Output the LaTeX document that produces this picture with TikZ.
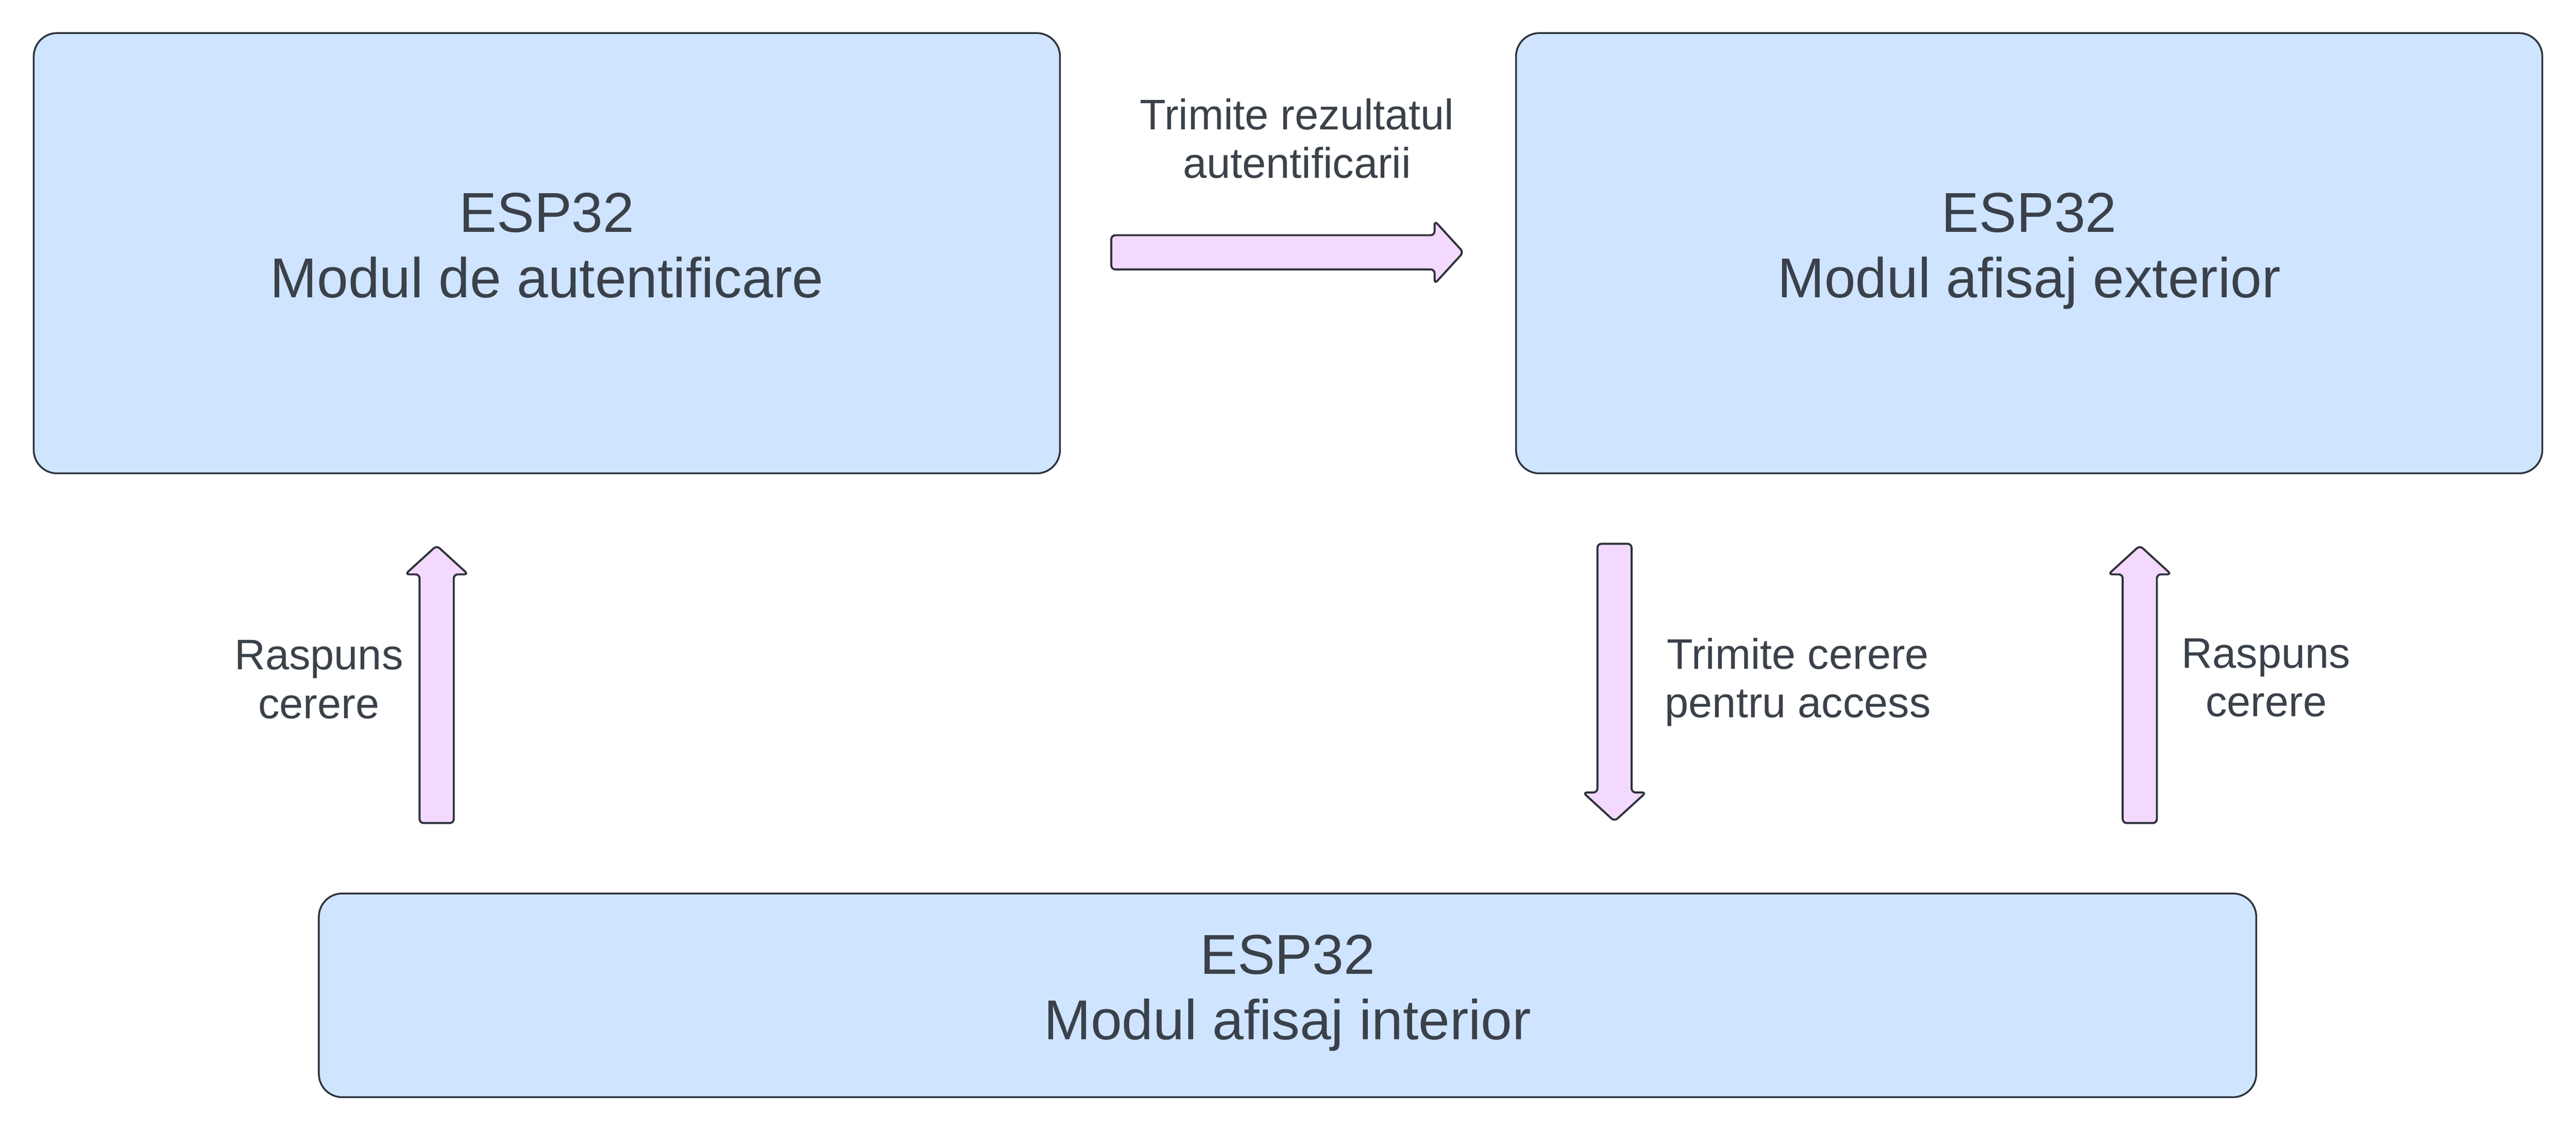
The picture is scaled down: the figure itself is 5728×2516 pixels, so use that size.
\documentclass[tikz,border=0pt]{standalone}
\usepackage{fontspec}
\setmainfont{Liberation Sans}

\definecolor{boxblue}{HTML}{CFE4FF}
\definecolor{arrowpink}{HTML}{F3D9FD}
\definecolor{inkgrey}{HTML}{3A414A}
\definecolor{edgegrey}{HTML}{2E333B}

% block arrow: tail, direction, length
\newcommand{\blockarrow}[3]{%
	\draw[arrowbody, shift={(#1)}, rotate=#2]
		(0,-38) -- (#3-64,-38) -- (#3-64,-70) -- (#3,0)
		-- (#3-64,70) -- (#3-64,38) -- (0,38) -- cycle;}

\begin{document}
\begin{tikzpicture}[x=1pt, y=-1pt,
	module/.style={draw=edgegrey, fill=boxblue, line width=4pt, rounded corners=52pt,
		text=inkgrey, align=center, text depth=36pt, font=\fontsize{125}{146}\selectfont},
	note/.style={text=inkgrey, align=center, font=\fontsize{95}{108}\selectfont},
	arrowbody/.style={draw=edgegrey, fill=arrowpink, line width=4.5pt, rounded corners=9pt}]
	\useasboundingbox (0,0) rectangle (5728,2516);

	% ESP32 modules
	\node[module, minimum width=2282pt, minimum height=979pt] (auth) at (1216,563) {ESP32\\Modul de autentificare};
	\node[module, minimum width=2282pt, minimum height=979pt] (ext) at (4512,563) {ESP32\\Modul afisaj exterior};
	\node[module, minimum width=4308pt, minimum height=453pt] (int) at (2863,2213) {ESP32\\Modul afisaj interior};

	% arrow tails
	\coordinate (res tail) at (2471,561);
	\coordinate (ans left tail) at (971,1830);
	\coordinate (req tail) at (3590,1209);
	\coordinate (ans right tail) at (4758,1830);

	% auth -> ext
	\blockarrow{res tail}{0}{783}
	\node[note] (res label) at (2884,308) {Trimite rezultatul\\autentificarii};

	% int -> auth
	\blockarrow{ans left tail}{90}{617}
	\node[note] (ans left) at (709,1511) {Raspuns\\cerere};

	% ext -> int
	\blockarrow{req tail}{-90}{617}
	\node[note] (req label) at (3998,1517) {Trimite cerere\\pentru access};

	% int -> ext
	\blockarrow{ans right tail}{90}{617}
	\node[note] (ans right) at (5039,1507) {Raspuns\\cerere};

\end{tikzpicture}
\end{document}
